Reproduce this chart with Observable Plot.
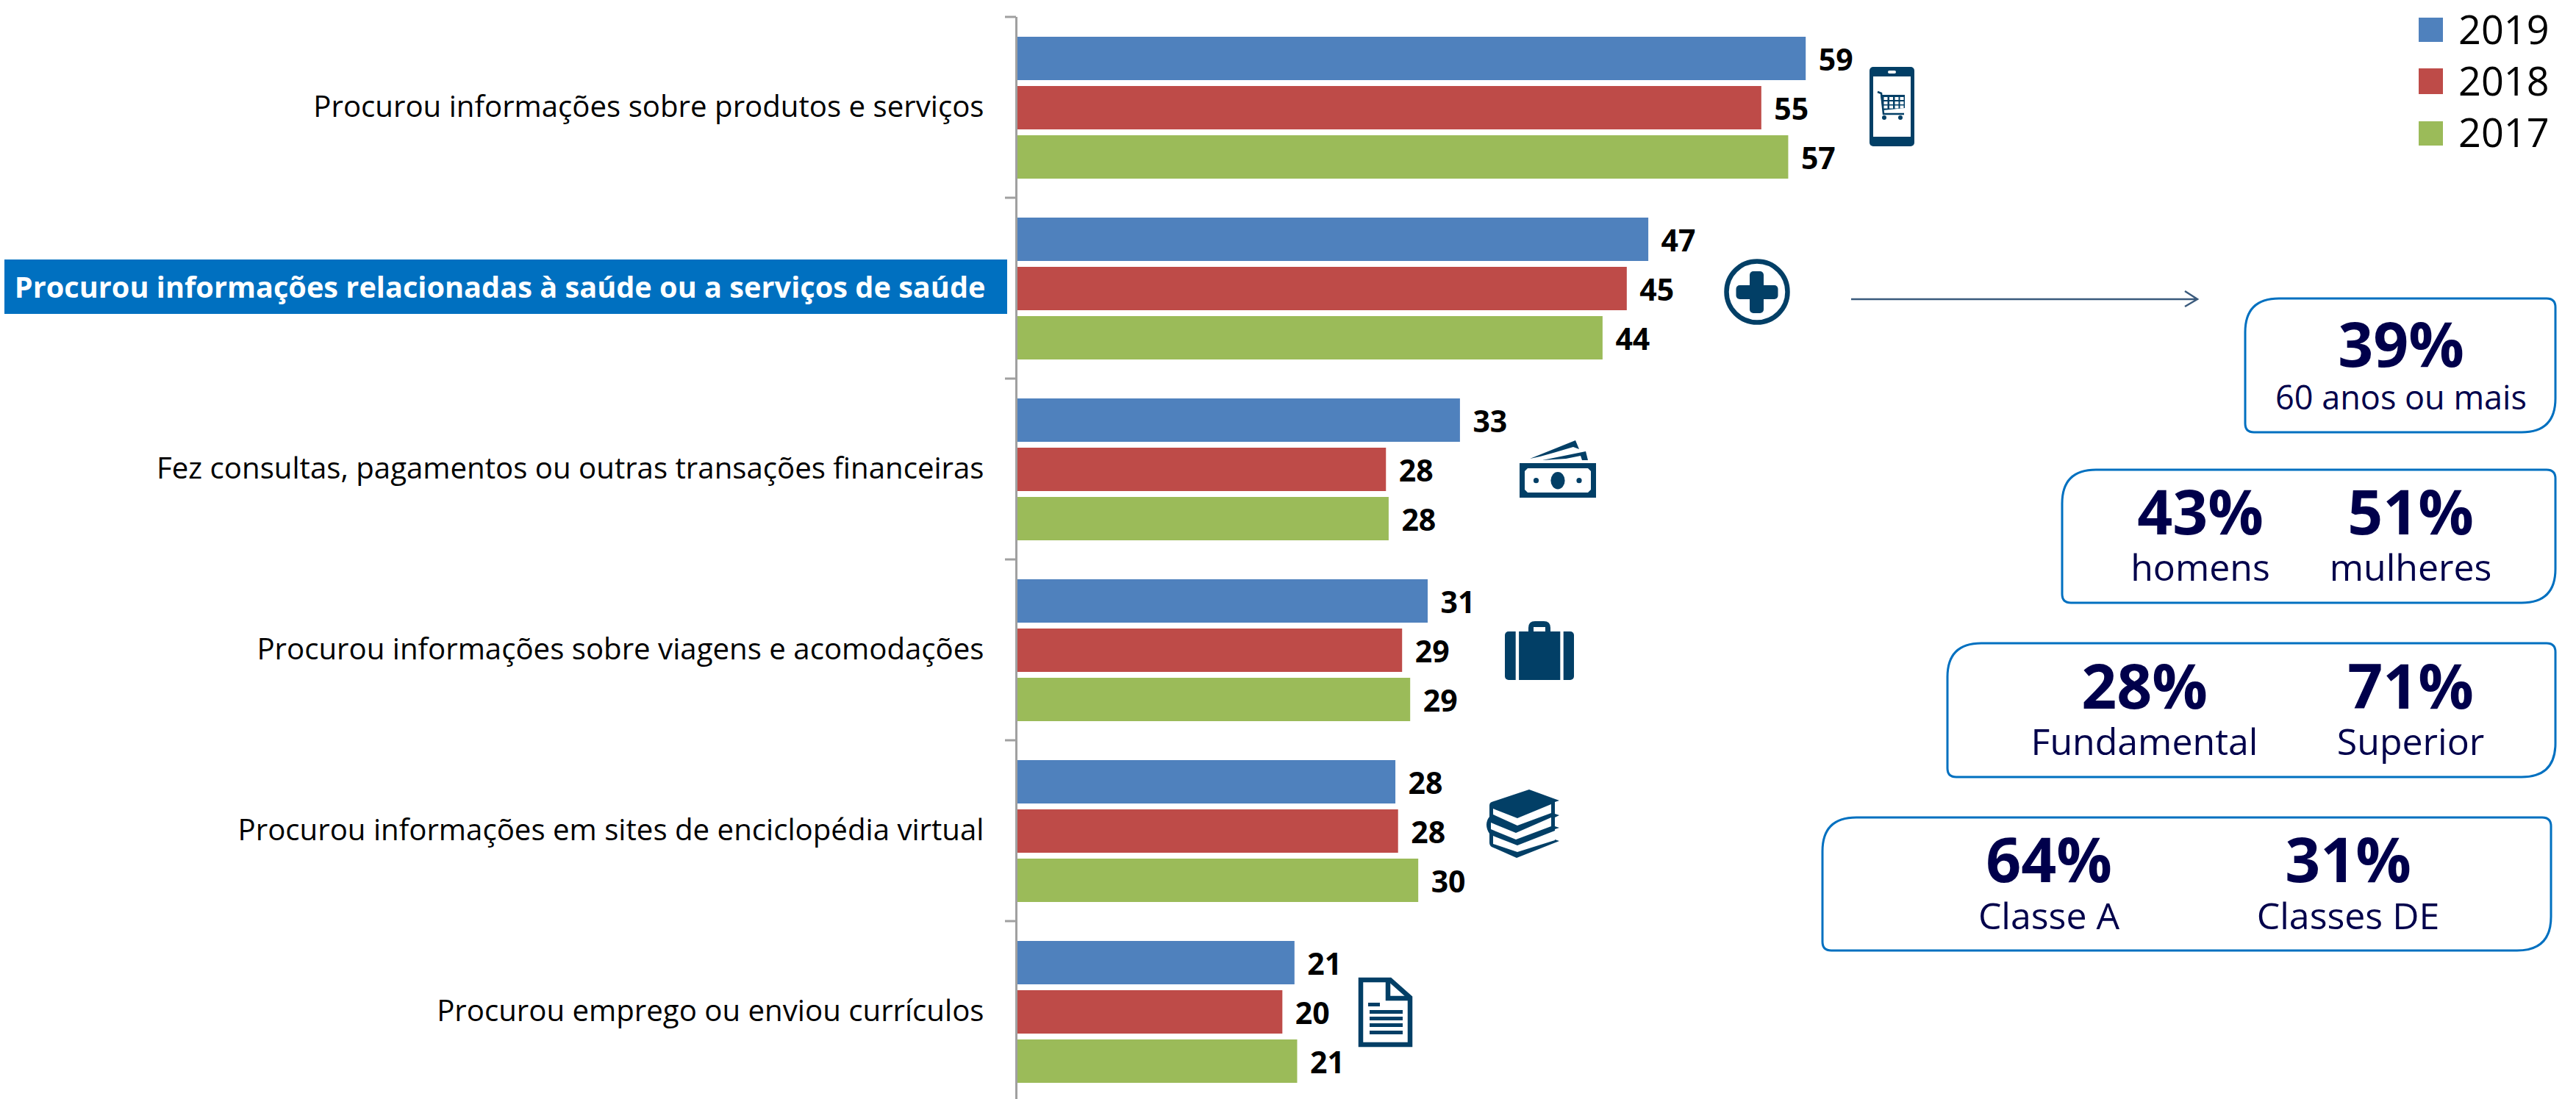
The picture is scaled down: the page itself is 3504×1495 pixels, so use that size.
<!DOCTYPE html>
<html lang="pt">
<head>
<meta charset="utf-8">
<style>
html,body{margin:0;padding:0;background:#fff;overflow:hidden}
svg{display:block}
</style>
<script src="https://cdn.jsdelivr.net/npm/d3@7"></script>
<script src="https://cdn.jsdelivr.net/npm/@observablehq/plot@0.6"></script>
</head>
<body>
<div id="chart"></div>
<script>
const activities = [
  "Procurou informações sobre produtos e serviços",
  "Procurou informações relacionadas à saúde ou a serviços de saúde",
  "Fez consultas, pagamentos ou outras transações financeiras",
  "Procurou informações sobre viagens e acomodações",
  "Procurou informações em sites de enciclopédia virtual",
  "Procurou emprego ou enviou currículos"
];
const highlighted = activities[1];
const years = ["2019", "2018", "2017"];
const values2019 = [58.7, 47.0, 33.0, 30.6, 28.2, 20.7];
const values2018 = [55.4, 45.4, 27.5, 28.7, 28.4, 19.8];
const values2017 = [57.4, 43.6, 27.7, 29.3, 29.9, 20.9];
const yearColors = ["#4F81BD", "#BE4B48", "#9BBB59"];
const calloutBig = ["39%", "43%", "51%", "28%", "71%", "64%", "31%"];
const calloutSmall = ["60 anos ou mais", "homens", "mulheres", "Fundamental", "Superior", "Classe A", "Classes DE"];

const FONT = "'Open Sans', sans-serif";
const INK = "#023F66";
const NAVY = "#00004B";
const BOX = "#0070C0";
const UNIT = 18.3; // pixels per percentage point
const AXIS_X = 1382;

const rows = activities.flatMap((activity, i) => [
  {activity, year: years[0], value: values2019[i]},
  {activity, year: years[1], value: values2018[i]},
  {activity, year: years[2], value: values2017[i]}
]);

const S = "http://www.w3.org/2000/svg";
function el(parent, name, attrs, txt) {
  const n = document.createElementNS(S, name);
  for (const k in attrs) n.setAttribute(k, attrs[k]);
  if (txt != null) n.textContent = txt;
  parent.appendChild(n);
  return n;
}
function boxPath(x0, y0, x1, y1, big, small) {
  return `M${x0 + big},${y0}H${x1 - small}Q${x1},${y0} ${x1},${y0 + small}V${y1 - big}Q${x1},${y1} ${x1 - big},${y1}H${x0 + small}Q${x0},${y1} ${x0},${y1 - small}V${y0 + big}Q${x0},${y0} ${x0 + big},${y0}Z`;
}

// One tick at the top edge of each facet's band
function axisTick(index, scales) {
  const g = document.createElementNS(S, "g");
  const x0 = scales.x(0);
  el(g, "line", {x1: x0 - 15, x2: x0, y1: 0, y2: 0, stroke: "#A0A0A0", "stroke-width": 3});
  return g;
}

function legend(g) {
  const swatchY = [24, 93, 165], swatchH = [33, 35, 33], baseY = [60, 130, 200];
  years.forEach((y, i) => {
    el(g, "rect", {x: 3290, y: swatchY[i], width: 33, height: swatchH[i], fill: yearColors[i]});
    el(g, "text", {x: 3344, y: baseY[i], "text-anchor": "start", "font-family": FONT, "font-size": 54, fill: "#000"}, y);
  });
}

function callouts(g) {
  const boxes = [[3054, 406, 3476, 588], [2805, 639, 3476, 820], [2649, 875, 3476, 1057], [2479, 1112, 3470, 1293]];
  for (const [a, b, c, d] of boxes)
    el(g, "path", {d: boxPath(a, b, c, d, 46, 12), fill: "none", stroke: BOX, "stroke-width": 3});
  const cx = [3266, 2993, 3279, 2917, 3279, 2787, 3194];
  const by = [499, 727, 727, 964, 964, 1200, 1200];
  const sy = [557, 790, 790, 1027, 1027, 1264, 1264];
  const subSize = [45, 50, 50, 50, 50, 50, 50];
  calloutBig.forEach((t, i) => {
    el(g, "text", {x: cx[i], y: by[i], "text-anchor": "middle", "font-family": FONT, "font-weight": 700, "font-size": 84, fill: NAVY}, t);
    el(g, "text", {x: cx[i], y: sy[i], "text-anchor": "middle", "font-family": FONT, "font-size": subSize[i], fill: NAVY}, calloutSmall[i]);
  });
  el(g, "path", {d: "M2518,407H2989M2972,396L2989,407L2972,417", fill: "none", stroke: "#3A5A7C", "stroke-width": 2.5});
}

function icons(g) {
  // phone
  el(g, "rect", {x: 2543, y: 91, width: 61, height: 108, rx: 5, fill: INK});
  el(g, "rect", {x: 2548, y: 104, width: 51, height: 82, fill: "#fff"});
  el(g, "rect", {x: 2568, y: 96, width: 11, height: 4, rx: 2, fill: "#fff"});
  // cart
  el(g, "path", {d: "M2554,125L2559,127L2562,155H2590", fill: "none", stroke: INK, "stroke-width": 2.5});
  el(g, "path", {d: "M2558,129H2591V147L2561,150Z", fill: INK});
  for (const cxx of [2562.5, 2570, 2577.5, 2584.5]) for (const cyy of [132, 138, 143.5])
    el(g, "rect", {x: cxx, y: cyy, width: 5, height: 4, fill: "#fff"});
  el(g, "circle", {cx: 2563, cy: 160, r: 3, fill: INK});
  el(g, "circle", {cx: 2585, cy: 160, r: 3, fill: INK});
  // health
  el(g, "circle", {cx: 2390, cy: 397, r: 41.5, fill: "none", stroke: INK, "stroke-width": 6.5});
  el(g, "rect", {x: 2361.5, y: 388, width: 57, height: 19, rx: 5, fill: INK});
  el(g, "rect", {x: 2380, y: 369, width: 19, height: 57, rx: 5, fill: INK});
  // money
  el(g, "path", {d: "M2081,624L2143,599L2148,611L2140,608L2113,616L2095,621Z", fill: INK});
  el(g, "path", {d: "M2098,626L2157,614L2160,626H2152L2150,620L2130,624Z", fill: INK});
  el(g, "rect", {x: 2067, y: 630, width: 104, height: 47, fill: INK});
  el(g, "path", {d: "M2078,637H2160L2164,641V666L2160,670H2078L2074,666V641Z", fill: "#fff"});
  el(g, "ellipse", {cx: 2119, cy: 653.7, rx: 9.6, ry: 11.7, fill: INK});
  el(g, "circle", {cx: 2089.5, cy: 653.7, r: 3.6, fill: INK});
  el(g, "circle", {cx: 2148, cy: 653.7, r: 3.6, fill: INK});
  // suitcase
  el(g, "path", {d: "M2079,862V854Q2079,845 2088,845H2100Q2109,845 2109,854V862H2102V853H2086V862Z", fill: INK});
  el(g, "rect", {x: 2047, y: 859, width: 94, height: 66, rx: 5, fill: INK});
  el(g, "rect", {x: 2061.7, y: 859, width: 4.4, height: 66, fill: "#fff"});
  el(g, "rect", {x: 2122.3, y: 859, width: 4.4, height: 66, fill: "#fff"});
  // books
  el(g, "path", {d: "M2029,1091L2080,1074L2121,1089L2115,1091V1107L2121,1109L2115,1112V1124L2121,1126L2115,1128V1142L2121,1144L2063,1167L2029,1152Q2026,1150 2026,1146V1134Q2022,1128 2022,1122Q2022,1116 2026,1111V1096Q2026,1092 2029,1091Z", fill: INK});
  el(g, "path", {d: "M2031,1100L2064,1113L2110,1094V1106L2064,1123L2031,1108Z", fill: "#fff"});
  el(g, "path", {d: "M2028,1119L2062,1133L2110,1112V1124L2062,1142L2028,1128Z", fill: "#fff"});
  el(g, "path", {d: "M2031,1137L2064,1150L2115,1130V1143L2064,1159L2031,1148Z", fill: "#fff"});
  // document
  el(g, "path", {d: "M1851,1333H1891L1918,1357V1421H1851Z", fill: "#fff", stroke: INK, "stroke-width": 6.5});
  el(g, "path", {d: "M1888,1333V1358H1918", fill: "none", stroke: INK, "stroke-width": 6.5});
  el(g, "rect", {x: 1861, y: 1364, width: 16, height: 5, fill: INK});
  for (const y of [1374, 1383, 1392, 1402]) el(g, "rect", {x: 1863, y, width: 45, height: 5, fill: INK});
}

const chart = Plot.plot({
  width: 3504,
  height: 1495,
  marginTop: 0, marginBottom: 0, marginLeft: 0, marginRight: 0,
  style: {background: "#fff", fontFamily: FONT},
  x: {domain: [-AXIS_X / UNIT, (3504 - AXIS_X) / UNIT], range: [0, 3504], axis: null},
  y: {domain: years, range: [26, 221], paddingInner: 8 / 68, paddingOuter: 0, axis: null},
  fy: {domain: activities, range: [21, 1500.6], padding: 0, axis: null},
  color: {domain: years, range: yearColors},
  marks: [
    Plot.barX(rows, {x: "value", y: "year", fy: "activity", fill: "year"}),
    Plot.ruleX([0], {stroke: "#A0A0A0", strokeWidth: 3}),
    axisTick,
    Plot.text(rows, {
      x: "value", y: "year", fy: "activity",
      text: d => String(Math.round(d.value)),
      dx: 17, dy: 3, textAnchor: "start",
      fontSize: 41, fontWeight: 700, fill: "#000"
    }),
    Plot.text(activities.filter(a => a !== highlighted), {
      x: () => 0, fy: d => d, text: d => d, frameAnchor: "middle",
      dx: -44, textAnchor: "end", lineWidth: 1000, fontSize: 40.2, fill: "#000"
    }),
    Plot.text([highlighted], {
      x: () => 0, fy: d => d, text: d => d, frameAnchor: "middle",
      dx: -42, textAnchor: "end", lineWidth: 1000, fontSize: 39.7, fontWeight: 700, fill: "#fff"
    })
  ]
});

// Annotation layers: highlight band sits below the Plot marks, the rest above
const firstLayer = chart.querySelector("g");
const band = document.createElementNS(S, "rect");
for (const [k, v] of Object.entries({x: 6, y: 353, width: 1364, height: 74, fill: "#0070C0"})) band.setAttribute(k, v);
chart.insertBefore(band, firstLayer);
const deco = el(chart, "g", {});
icons(deco);
legend(deco);
callouts(deco);

document.getElementById("chart").appendChild(chart);
</script>
</body>
</html>
